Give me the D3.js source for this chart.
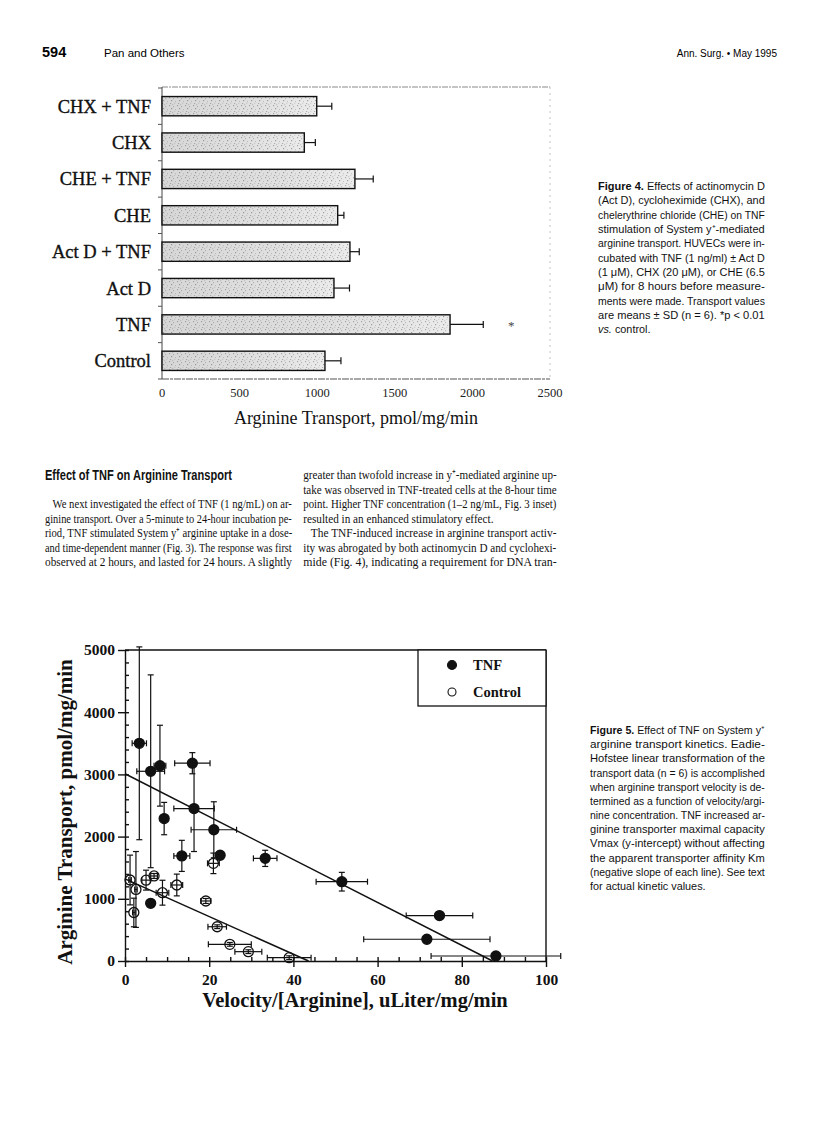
<!DOCTYPE html>
<html><head><meta charset="utf-8">
<script src="https://cdnjs.cloudflare.com/ajax/libs/d3/7.8.5/d3.min.js"></script>
<style>body{margin:0;background:#fff}svg{display:block}</style>
</head><body><svg id="page" width="816" height="1121"></svg>
<script>
// ---------- Figure 4 data ----------
const fig4Categories = ["CHX + TNF","CHX","CHE + TNF","CHE","Act D + TNF","Act D","TNF","Control"];
const fig4Means = [997, 917, 1243, 1132, 1211, 1108, 1856, 1050];
const fig4SD = [97, 71, 118, 40, 60, 100, 214, 103];
const fig4XTicks = [0, 500, 1000, 1500, 2000, 2500];
const fig4Starred = ["TNF"];
const fig4XTitle = "Arginine Transport, pmol/mg/min";

// ---------- Figure 5 data ----------
const tnfVel = [3.4, 6.1, 8.3, 16.0, 16.4, 9.3, 21.1, 13.5, 22.6, 33.3, 51.5, 74.7, 71.7, 88.1, 6.1];
const tnfTr  = [3500, 3050, 3140, 3180, 2450, 2290, 2110, 1690, 1700, 1650, 1275, 730, 350, 80, 927];
const tnfVelErr = [1.7, 3.3, 1.4, 4.2, 4.8, 0, 5.4, 1.9, 0.6, 2.8, 6.1, 7.9, 15, 15.4, 0];
const tnfTrErr  = [1550, 1550, 650, 170, 690, 260, 450, 250, 60, 130, 150, 40, 30, 30, 40];
const ctrlVel = [1.2, 2.6, 2.1, 5.0, 6.9, 8.9, 12.3, 21.0, 19.2, 21.9, 24.9, 29.3, 39.0];
const ctrlTr  = [1302, 1150, 780, 1300, 1367, 1098, 1222, 1570, 965, 551, 268, 150, 53];
const ctrlVelErr = [0.3, 0.3, 0.3, 1.0, 0.8, 1.5, 1.4, 1.4, 1.2, 2.2, 5.1, 3.2, 5.2];
const ctrlTrErr  = [400, 610, 230, 160, 40, 200, 175, 165, 40, 30, 30, 30, 30];
const tnfFit = [3010, 87.3];   // y-intercept, x-intercept
const ctrlFit = [1320, 43.6];
const fig5XTicks = [0, 20, 40, 60, 80, 100];
const fig5YTicks = [0, 1000, 2000, 3000, 4000, 5000];
const fig5Legend = ["TNF", "Control"];
const fig5XTitle = "Velocity/[Arginine], uLiter/mg/min";
const fig5YTitle = "Arginine Transport, pmol/mg/min";

// ---------- Page text ----------
const headerLeftNum = "594";
const headerLeftText = "Pan and Others";
const headerRight = "Ann. Surg. \u2022 May 1995";
const cap4Lines = [
  "**Figure 4.** Effects of actinomycin D",
  "(Act D), cycloheximide (CHX), and",
  "chelerythrine chloride (CHE) on TNF",
  "stimulation of System y\u207A-mediated",
  "arginine transport. HUVECs were in-",
  "cubated with TNF (1 ng/ml) \u00B1 Act D",
  "(1 \u03BCM), CHX (20 \u03BCM), or CHE (6.5",
  "\u03BCM) for 8 hours before measure-",
  "ments were made. Transport values",
  "are means \u00B1 SD (n = 6). *p < 0.01",
  "_vs._ control."
];
const cap5Lines = [
  "**Figure 5.** Effect of TNF on System y\u207A",
  "arginine transport kinetics. Eadie-",
  "Hofstee linear transformation of the",
  "transport data (n = 6) is accomplished",
  "when arginine transport velocity is de-",
  "termined as a function of velocity/argi-",
  "nine concentration. TNF increased ar-",
  "ginine transporter maximal capacity",
  "Vmax (y-intercept) without affecting",
  "the apparent transporter affinity Km",
  "(negative slope of each line). See text",
  "for actual kinetic values."
];
const sectionHeading = "Effect of TNF on Arginine Transport";
const leftColParas = [
  {lines: [
    "We next investigated the effect of TNF (1 ng/mL) on ar-",
    "ginine transport. Over a 5-minute to 24-hour incubation pe-",
    "riod, TNF stimulated System y\u207A arginine uptake in a dose-",
    "and time-dependent manner (Fig. 3). The response was first",
    "observed at 2 hours, and lasted for 24 hours. A slightly"], ends: false, indent: true}
];
const rightColParas = [
  {lines: [
    "greater than twofold increase in y\u207A-mediated arginine up-",
    "take was observed in TNF-treated cells at the 8-hour time",
    "point. Higher TNF concentration (1\u20132 ng/mL, Fig. 3 inset)",
    "resulted in an enhanced stimulatory effect."], ends: true, indent: false},
  {lines: [
    "The TNF-induced increase in arginine transport activ-",
    "ity was abrogated by both actinomycin D and cyclohexi-",
    "mide (Fig. 4), indicating a requirement for DNA tran-"], ends: false, indent: true}
];

// ================= drawing =================
const svg = d3.select("#page");
const SANS = "'Liberation Sans', Arial, Helvetica, sans-serif";
const SERIF = "'Liberation Serif', 'Times New Roman', Times, serif";

// header
svg.append("text").attr("x", 42).attr("y", 57).attr("font-family", SANS).attr("font-weight", "bold")
  .attr("font-size", 14.5).text(headerLeftNum);
svg.append("text").attr("x", 104).attr("y", 57).attr("font-family", SANS)
  .attr("font-size", 11.5).text(headerLeftText);
svg.append("text").attr("x", 777).attr("y", 57).attr("font-family", SANS).attr("text-anchor", "end")
  .attr("font-size", 10).text(headerRight);

// helper: rich line
function richText(t, str) {
  const re = /(\*\*[^*]+\*\*|_[^_]+_)/g;
  let last = 0, m;
  while ((m = re.exec(str)) !== null) {
    if (m.index > last) t.append("tspan").text(str.slice(last, m.index));
    const tok = m[0];
    if (tok.startsWith("**")) t.append("tspan").attr("font-weight", "bold").text(tok.slice(2, -2));
    else t.append("tspan").attr("font-style", "italic").text(tok.slice(1, -1));
    last = m.index + tok.length;
  }
  if (last < str.length) t.append("tspan").text(str.slice(last));
}

// justified block: lines are scaled horizontally to the column width
function justifiedBlock(items, x, y0, lh, width, family, size) {
  const nodes = [];
  items.forEach((it, i) => {
    const g = svg.append("g");
    const t = g.append("text").attr("x", 0).attr("y", 0)
      .attr("font-family", family).attr("font-size", size).attr("fill", "#111");
    richText(t, it.str);
    nodes.push({g, it, i, nat: t.node().getComputedTextLength()});
  });
  const js = nodes.filter(n => n.it.justify);
  const k = d3.mean(js, n => (width - n.it.indent) / n.nat);
  nodes.forEach(n => {
    const target = n.it.justify ? (width - n.it.indent) : Math.min(n.nat * k, width - n.it.indent);
    n.g.attr("transform", `translate(${x + n.it.indent},${y0 + n.i * lh}) scale(${target / n.nat},1)`);
  });
}

// captions
justifiedBlock(cap4Lines.map((s, i) => ({str: s, indent: 0, justify: i < cap4Lines.length - 1})),
  598, 190, 14.33, 167, SANS, 11);
justifiedBlock(cap5Lines.map((s, i) => ({str: s, indent: 0, justify: i < cap5Lines.length - 1})),
  590, 734, 14.18, 175, SANS, 11);

// body text
{
  const g = svg.append("g");
  const t = g.append("text").attr("font-family", SANS).attr("font-weight", "bold")
    .attr("font-size", 14).attr("fill", "#111").text(sectionHeading);
  const nat = t.node().getComputedTextLength();
  g.attr("transform", `translate(45,480) scale(${187 / nat},1)`);
}
function colItems(paras) {
  const out = [];
  paras.forEach(p => p.lines.forEach((s, i) => out.push({
    str: s, indent: (p.indent && i === 0) ? 7.5 : 0,
    justify: !(p.ends && i === p.lines.length - 1)})));
  return out;
}
justifiedBlock(colItems(leftColParas), 45, 508, 14.5, 247, SERIF, 12.8);
justifiedBlock(colItems(rightColParas), 303.3, 479, 14.5, 253.4, SERIF, 12.8);

// ================= Figure 4 =================
const f4 = svg.append("g");
const x4 = d3.scaleLinear().domain([0, 2500]).range([162, 550]);
const y4 = d3.scaleBand().domain(fig4Categories).range([88, 379]).paddingInner(0.47).paddingOuter(0.235);
const defs = svg.append("defs");
const pat = defs.append("pattern").attr("id", "stip").attr("patternUnits", "userSpaceOnUse")
  .attr("width", 8).attr("height", 8);
pat.append("rect").attr("width", 8).attr("height", 8).attr("fill", "#ececec");
[[1,1,"#a8a8a8"],[5,2,"#bdbdbd"],[3,4,"#9c9c9c"],[7,5,"#c4c4c4"],[2,7,"#b0b0b0"],[6,7,"#d0d0d0"],[4,0,"#c8c8c8"]]
  .forEach(d => pat.append("rect").attr("x", d[0]).attr("y", d[1]).attr("width", 1.2).attr("height", 1.2).attr("fill", d[2]));
const grad = defs.append("linearGradient").attr("id", "shade").attr("x1", 0).attr("x2", 1).attr("y1", 0).attr("y2", 0);
grad.append("stop").attr("offset", "0%").attr("stop-color", "#777").attr("stop-opacity", 0.18);
grad.append("stop").attr("offset", "60%").attr("stop-color", "#777").attr("stop-opacity", 0.1);
grad.append("stop").attr("offset", "100%").attr("stop-color", "#777").attr("stop-opacity", 0.0);

// frame
f4.append("line").attr("x1", x4(0)).attr("x2", x4(2500)).attr("y1", 87).attr("y2", 87)
  .attr("stroke", "#8a8a8a").attr("stroke-width", 1).attr("stroke-dasharray", "6,1,2,1");
f4.append("line").attr("x1", x4(2500)).attr("x2", x4(2500)).attr("y1", 87).attr("y2", 379)
  .attr("stroke", "#c4c4c4").attr("stroke-width", 1).attr("stroke-dasharray", "2,4");
f4.append("line").attr("x1", x4(0)).attr("x2", x4(2500)).attr("y1", 379).attr("y2", 379)
  .attr("stroke", "#555").attr("stroke-width", 1.1).attr("stroke-dasharray", "7,1,3,1");
f4.append("line").attr("x1", x4(0)).attr("x2", x4(0)).attr("y1", 87).attr("y2", 379)
  .attr("stroke", "#444").attr("stroke-width", 1);
// category boundary ticks
const step4 = y4.step();
d3.range(fig4Categories.length + 1).forEach(i => {
  const yy = y4(fig4Categories[0]) - (step4 - y4.bandwidth()) / 2 + i * step4;
  f4.append("line").attr("x1", x4(0) - 4).attr("x2", x4(0)).attr("y1", yy).attr("y2", yy)
    .attr("stroke", "#555").attr("stroke-width", 1);
});
// bars
const bars = f4.selectAll(".bar").data(fig4Categories).enter().append("g");
bars.append("rect").attr("x", x4(0)).attr("y", d => y4(d))
  .attr("width", (d, i) => x4(fig4Means[i]) - x4(0)).attr("height", y4.bandwidth())
  .attr("fill", "url(#stip)");
bars.append("rect").attr("x", x4(0)).attr("y", d => y4(d))
  .attr("width", (d, i) => x4(fig4Means[i]) - x4(0)).attr("height", y4.bandwidth())
  .attr("fill", "url(#shade)").attr("stroke", "#111").attr("stroke-width", 1.4);
bars.append("line").attr("x1", (d, i) => x4(fig4Means[i])).attr("x2", (d, i) => x4(fig4Means[i] + fig4SD[i]))
  .attr("y1", d => y4(d) + y4.bandwidth() / 2).attr("y2", d => y4(d) + y4.bandwidth() / 2)
  .attr("stroke", "#111").attr("stroke-width", 1.2);
bars.append("line").attr("x1", (d, i) => x4(fig4Means[i] + fig4SD[i])).attr("x2", (d, i) => x4(fig4Means[i] + fig4SD[i]))
  .attr("y1", d => y4(d) + y4.bandwidth() / 2 - 3.5).attr("y2", d => y4(d) + y4.bandwidth() / 2 + 3.5)
  .attr("stroke", "#111").attr("stroke-width", 1.2);
bars.filter(d => fig4Starred.includes(d)).append("text")
  .attr("x", (d) => { const i = fig4Categories.indexOf(d); return x4(fig4Means[i] + fig4SD[i]) + 28; })
  .attr("y", d => y4(d) + y4.bandwidth() / 2 + 6).attr("font-family", SERIF).attr("font-size", 13)
  .attr("fill", "#444").attr("text-anchor", "middle").text("*");
// category labels
f4.selectAll(".cl").data(fig4Categories).enter().append("text")
  .attr("x", 151).attr("y", d => y4(d) + y4.bandwidth() / 2 + 6.5).attr("text-anchor", "end")
  .attr("font-family", SERIF).attr("font-size", 18.5).attr("fill", "#111")
  .attr("stroke", "#111").attr("stroke-width", 0.35).text(d => d);
// x tick labels
f4.selectAll(".xt").data(fig4XTicks).enter().append("text")
  .attr("x", d => x4(d)).attr("y", 397).attr("text-anchor", "middle")
  .attr("font-family", SERIF).attr("font-size", 12.5).attr("fill", "#222").text(d => d);
f4.append("text").attr("x", 356).attr("y", 424).attr("text-anchor", "middle")
  .attr("font-family", SERIF).attr("font-size", 18).attr("fill", "#111").text(fig4XTitle);

// ================= Figure 5 =================
const f5 = svg.append("g");
const x5 = d3.scaleLinear().domain([0, 100]).range([125, 546]);
const y5 = d3.scaleLinear().domain([0, 5000]).range([961, 650]);

// frame
f5.append("line").attr("x1", x5(0)).attr("x2", x5(100)).attr("y1", y5(5000)).attr("y2", y5(5000))
  .attr("stroke", "#111").attr("stroke-width", 1.4);
f5.append("line").attr("x1", x5(100)).attr("x2", x5(100)).attr("y1", y5(5000)).attr("y2", y5(0))
  .attr("stroke", "#111").attr("stroke-width", 1.4);

// axes
const yAx = f5.append("g").attr("transform", `translate(${x5(0)},0)`)
  .call(d3.axisLeft(y5).tickValues(fig5YTicks).tickSize(7).tickSizeOuter(0).tickPadding(3).tickFormat(d3.format("d")));
const yMin = f5.append("g").attr("transform", `translate(${x5(0)},0)`)
  .call(d3.axisRight(y5).tickValues(d3.range(0, 5001, 200)).tickSize(4).tickFormat(""));
yMin.select(".domain").remove();
const xAx = f5.append("g").attr("transform", `translate(0,${y5(0)})`)
  .call(d3.axisBottom(x5).tickValues(fig5XTicks).tickSize(6).tickSizeOuter(0).tickPadding(7));
const xMin = f5.append("g").attr("transform", `translate(0,${y5(0)})`)
  .call(d3.axisTop(x5).tickValues(d3.range(0, 101, 5)).tickSize(4).tickFormat(""));
xMin.select(".domain").remove();
[yAx, xAx, yMin, xMin].forEach(a => {
  a.selectAll("path,line").attr("stroke", "#111").attr("stroke-width", 1.4);
  a.selectAll("text").attr("font-family", SERIF).attr("font-weight", "bold").attr("font-size", 15.5).attr("fill", "#111");
});

// fit lines
const line5 = d3.line().x(d => x5(d[0])).y(d => y5(d[1]));
[tnfFit, ctrlFit].forEach(f => {
  f5.append("path").attr("d", line5([[0, f[0]], [f[1], 0]])).attr("fill", "none")
    .attr("stroke", "#111").attr("stroke-width", 1.5);
});

// error bars + markers
function drawSeries(vel, tr, vErr, tErr, filled) {
  const g = f5.append("g");
  const cap = 3;
  vel.forEach((v, i) => {
    const cx = x5(v), cy = y5(tr[i]);
    if (vErr[i] > 0) {
      const xa = x5(v - vErr[i]), xb = x5(v + vErr[i]);
      g.append("line").attr("x1", xa).attr("x2", xb).attr("y1", cy).attr("y2", cy);
      g.append("line").attr("x1", xa).attr("x2", xa).attr("y1", cy - cap).attr("y2", cy + cap);
      g.append("line").attr("x1", xb).attr("x2", xb).attr("y1", cy - cap).attr("y2", cy + cap);
    }
    if (tErr[i] > 0) {
      const ya = y5(tr[i] + tErr[i]), yb = y5(Math.max(0, tr[i] - tErr[i]));
      g.append("line").attr("x1", cx).attr("x2", cx).attr("y1", ya).attr("y2", yb);
      g.append("line").attr("x1", cx - cap).attr("x2", cx + cap).attr("y1", ya).attr("y2", ya);
      g.append("line").attr("x1", cx - cap).attr("x2", cx + cap).attr("y1", yb).attr("y2", yb);
    }
  });
  g.selectAll("line").attr("stroke", "#111").attr("stroke-width", 1.2);
  g.selectAll("circle").data(vel).enter().append("circle")
    .attr("cx", d => x5(d)).attr("cy", (d, i) => y5(tr[i])).attr("r", 5)
    .attr("fill", filled ? "#111" : "none").attr("stroke", "#111").attr("stroke-width", 1.3);
}
drawSeries(ctrlVel, ctrlTr, ctrlVelErr, ctrlTrErr, false);
drawSeries(tnfVel, tnfTr, tnfVelErr, tnfTrErr, true);

// legend
const lg = f5.append("g");
lg.append("rect").attr("x", 418).attr("y", y5(5000)).attr("width", x5(100) - 418).attr("height", 56)
  .attr("fill", "#fff").attr("stroke", "#111").attr("stroke-width", 1.3);
fig5Legend.forEach((name, i) => {
  const yy = y5(5000) + 15 + i * 27;
  lg.append("circle").attr("cx", 452).attr("cy", yy).attr("r", i === 0 ? 4.5 : 4)
    .attr("fill", i === 0 ? "#111" : "#fff").attr("stroke", "#111").attr("stroke-width", 1.1);
  lg.append("text").attr("x", 473).attr("y", yy + 5).attr("font-family", SERIF).attr("font-weight", "bold")
    .attr("font-size", 14.5).attr("fill", "#111").text(name);
});

// axis titles
f5.append("text").attr("x", 355).attr("y", 1007).attr("text-anchor", "middle")
  .attr("font-family", SERIF).attr("font-weight", "bold").attr("font-size", 20.5).attr("fill", "#111").text(fig5XTitle);
f5.append("text").attr("transform", "translate(72,812) rotate(-90)").attr("text-anchor", "middle")
  .attr("font-family", SERIF).attr("font-weight", "bold").attr("font-size", 21).attr("fill", "#111").text(fig5YTitle);
</script></body></html>
